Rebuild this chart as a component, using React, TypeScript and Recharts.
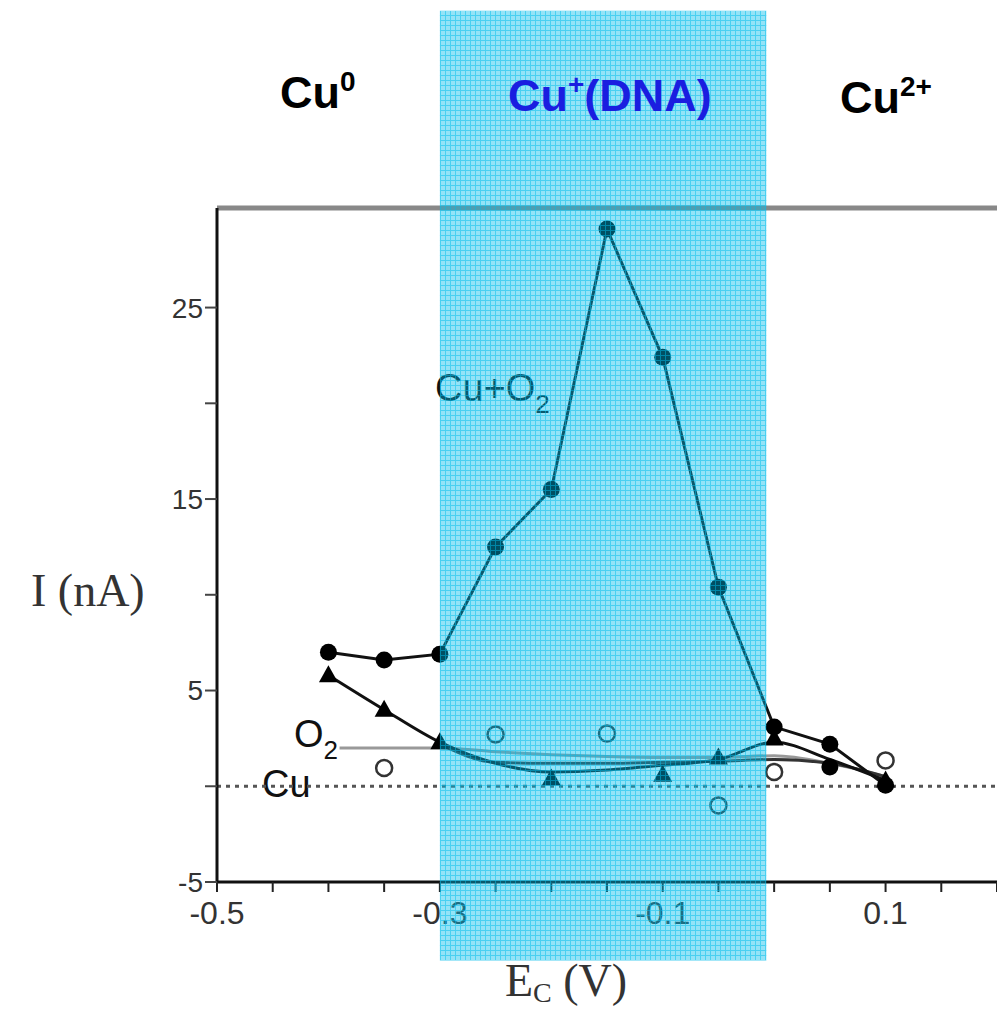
import React from "react";
import {
  ComposedChart,
  Line,
  Scatter,
  XAxis,
  YAxis,
  ReferenceArea,
  ReferenceLine,
} from "recharts";

// potentials (V) at which Cu+O2 was measured
const potentials = [-0.4, -0.35, -0.3, -0.25, -0.2, -0.15, -0.1, -0.05, 0, 0.05, 0.1];
const cuO2Current = [7.0, 6.6, 6.9, 12.5, 15.5, 29.1, 22.4, 10.4, 3.1, 2.2, 0.05];

// triangle markers and their fitted curve
const triX = [-0.4, -0.35, -0.3, -0.2, -0.1, -0.05, 0, 0.1];
const triY = [5.8, 4.0, 2.3, 0.4, 0.6, 1.5, 2.5, 0.3];
const triFitY = [5.8, 4.0, 2.3, 1.2, 0.75, 0.85, 1.1, 1.4, 2.3, 1.4, 0.3];

// O2 only (grey curve)
const o2X = [-0.39, -0.3, -0.25, -0.2, -0.15, -0.1, -0.05, 0, 0.05, 0.1];
const o2Y = [2.0, 2.0, 1.8, 1.65, 1.55, 1.5, 1.5, 1.6, 1.2, 0.5];

// Cu only (dark curve)
const cuX = [-0.3, -0.25, -0.2, -0.15, -0.1, -0.05, 0, 0.05, 0.1];
const cuY = [2.2, 1.25, 1.2, 1.2, 1.25, 1.3, 1.4, 1.2, 0.5];

// open circles
const openX = [-0.35, -0.25, -0.15, -0.05, 0, 0.1];
const openY = [0.95, 2.7, 2.75, -1.0, 0.75, 1.35];

// extra filled circle
const extraX = [0.05];
const extraY = [1.0];

// Cu+(DNA) window
const bandFrom = -0.3;
const bandTo = -0.007;

const xTicks = [-0.5, -0.45, -0.4, -0.35, -0.3, -0.25, -0.2, -0.15, -0.1, -0.05, 0, 0.05, 0.1, 0.15, 0.2];
const xLabeled = [-0.5, -0.3, -0.1, 0.1];
const yTicks = [-5, 0, 5, 10, 15, 20, 25];
const yLabeled = [-5, 5, 15, 25];

const zip = (xs: number[], ys: number[]) => xs.map((x, i) => ({ x, y: ys[i] }));

const cuO2Data = zip(potentials, cuO2Current);
const triData = zip(triX, triY);
const triFitData = zip(potentials, triFitY);
const o2Data = zip(o2X, o2Y);
const cuData = zip(cuX, cuY);
const openData = zip(openX, openY);
const extraData = zip(extraX, extraY);

const sans = "'Liberation Sans', Arial, sans-serif";
const serif = "'Liberation Serif', 'Times New Roman', serif";

const W = 997;
const H = 1011;
const margin = { top: 208, right: 0, bottom: 0, left: 0 };
const yAxisW = 217;
const xAxisH = 129;
const xDomain: [number, number] = [-0.5, 0.2];
const yDomain: [number, number] = [-5, 30.2];

const FilledDot = (p: any) => <circle cx={p.cx} cy={p.cy} r={8.5} fill="#000" />;
const OpenDot = (p: any) => (
  <circle cx={p.cx} cy={p.cy} r={8} fill="none" stroke="#333" strokeWidth={2.5} />
);
const Triangle = (p: any) => (
  <polygon
    points={`${p.cx},${p.cy - 10} ${p.cx - 9.5},${p.cy + 7} ${p.cx + 9.5},${p.cy + 7}`}
    fill="#000"
  />
);

const fmt = (labeled: number[]) => (v: number) =>
  labeled.some((l) => Math.abs(l - v) < 1e-9) ? String(v) : "";

const layer: React.CSSProperties = { position: "absolute", left: 0, top: 0 };

export default function App() {
  return (
    <div style={{ ...layer, width: W, height: H, background: "#fff" }}>
      {/* labels that sit under the band */}
      <svg width={W} height={H} style={layer}>
        <g fontFamily={sans} fill="#111">
          <text x={435} y={401} fontSize={38}>
            Cu+O<tspan fontSize={26} dy={12}>2</tspan>
          </text>
          <text x={294} y={747} fontSize={38}>
            O<tspan fontSize={26} dy={12}>2</tspan>
          </text>
          <text x={262} y={797} fontSize={38}>
            Cu
          </text>
        </g>
        <g fontFamily={serif} fill="#333" fontSize={46}>
          <text x={31} y={606}>I (nA)</text>
          <text x={505} y={996}>
            E<tspan fontSize={28} dy={6}>C</tspan>
            <tspan dy={-6}> (V)</tspan>
          </text>
        </g>
      </svg>

      <div style={layer}>
        <ComposedChart width={W} height={H} margin={margin}>
          <XAxis
            dataKey="x"
            type="number"
            domain={xDomain}
            ticks={xTicks}
            tickFormatter={fmt(xLabeled)}
            allowDataOverflow
            height={xAxisH}
            axisLine={{ stroke: "#111", strokeWidth: 3 }}
            tickLine={{ stroke: "#222", strokeWidth: 2 }}
            tickSize={10}
            tickMargin={9}
            tick={{ fill: "#333", fontSize: 32, fontFamily: sans }}
            interval={0}
          />
          <YAxis
            type="number"
            domain={yDomain}
            ticks={yTicks}
            tickFormatter={fmt(yLabeled)}
            allowDataOverflow
            width={yAxisW}
            axisLine={{ stroke: "#111", strokeWidth: 3 }}
            tickLine={{ stroke: "#444", strokeWidth: 2 }}
            tickSize={12}
            tickMargin={2}
            tick={{ fill: "#333", fontSize: 28, fontFamily: sans }}
            interval={0}
          />
          <ReferenceLine y={yDomain[1]} stroke="#888" strokeWidth={5} ifOverflow="visible" />
          <ReferenceLine y={0} stroke="#555" strokeWidth={3} strokeDasharray="4 5" />
          <Line data={o2Data} dataKey="y" type="monotone" stroke="#999" strokeWidth={3} dot={false} isAnimationActive={false} />
          <Line data={cuData} dataKey="y" type="monotone" stroke="#333" strokeWidth={3} dot={false} isAnimationActive={false} />
          <Line data={triFitData} dataKey="y" type="monotone" stroke="#111" strokeWidth={3} dot={false} isAnimationActive={false} />
          <Line data={cuO2Data} dataKey="y" type="linear" stroke="#111" strokeWidth={3} dot={false} isAnimationActive={false} />
          <Scatter data={cuO2Data} dataKey="y" shape={FilledDot} isAnimationActive={false} />
          <Scatter data={extraData} dataKey="y" shape={FilledDot} isAnimationActive={false} />
          <Scatter data={triData} dataKey="y" shape={Triangle} isAnimationActive={false} />
          <Scatter data={openData} dataKey="y" shape={OpenDot} isAnimationActive={false} />
        </ComposedChart>
      </div>

      {/* translucent band laid over the data, on the same scales */}
      <div style={{ ...layer, pointerEvents: "none" }}>
        <ComposedChart
          width={W}
          height={H}
          margin={{ top: margin.top, right: margin.right, bottom: xAxisH, left: yAxisW }}
        >
          <defs>
            <pattern id="bandGrid" width={5} height={5} patternUnits="userSpaceOnUse">
              <rect width={5} height={5} fill="#00bdeb" fillOpacity={0.42} />
              <rect width={5} height={1} fill="#00bdeb" fillOpacity={0.5} />
              <rect width={1} height={4} y={1} fill="#00bdeb" fillOpacity={0.5} />
            </pattern>
          </defs>
          <XAxis dataKey="x" type="number" domain={xDomain} allowDataOverflow hide />
          <YAxis type="number" domain={yDomain} allowDataOverflow hide />
          <ReferenceArea
            x1={bandFrom}
            x2={bandTo}
            y1={-9.1}
            y2={40.5}
            ifOverflow="visible"
            fill="url(#bandGrid)"
            fillOpacity={1}
            stroke="none"
          />
        </ComposedChart>
      </div>

      {/* oxidation-state headings */}
      <svg width={W} height={H} style={{ ...layer, pointerEvents: "none" }}>
        <g fontFamily={sans} fontWeight="bold" fontSize={45}>
          <text x={280} y={108} fill="#000">
            Cu<tspan fontSize={28} dy={-17}>0</tspan>
          </text>
          <text x={508} y={111} fill="#1a1ee0">
            Cu<tspan fontSize={28} dy={-17}>+</tspan>
            <tspan dy={17}>(DNA)</tspan>
          </text>
          <text x={840} y={113} fill="#000">
            Cu<tspan fontSize={28} dy={-17}>2+</tspan>
          </text>
        </g>
      </svg>
    </div>
  );
}
